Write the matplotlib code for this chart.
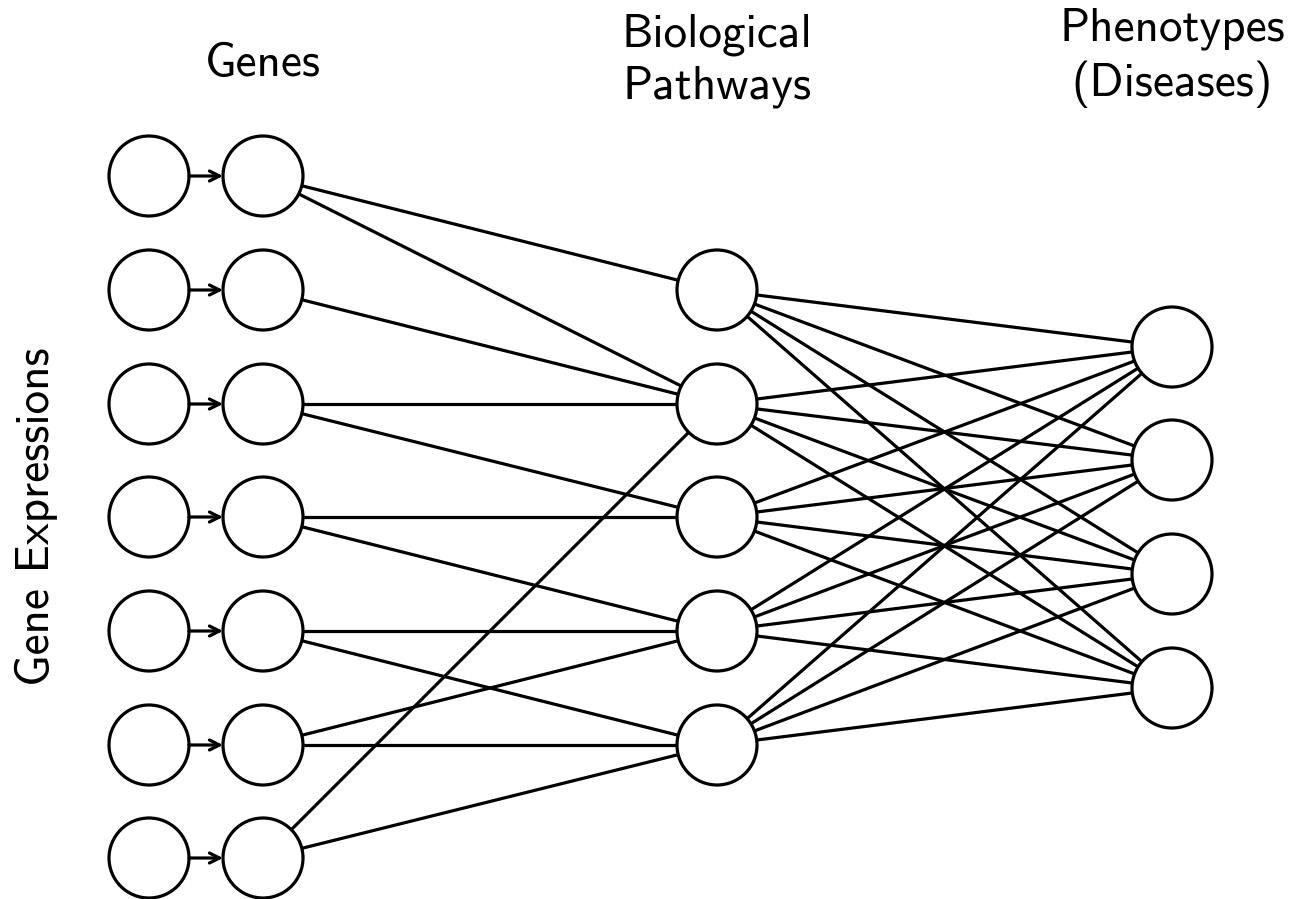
import numpy as np
import matplotlib.pyplot as plt
from matplotlib.patches import Circle

# node positions (pixel space of the picture)
expr_x = 149
gene_x = 263
path_x = 717
pheno_x = 1172
gene_y = [176, 290, 404, 517, 631, 745, 858]
path_y = [290, 404, 517, 631, 745]
pheno_y = [347, 460, 574, 688]
R = 40

# gene -> pathway links (gene index, pathway index)
gene_links = [(0, 0), (0, 1), (1, 1), (2, 1), (2, 2), (3, 2), (3, 3),
              (4, 3), (4, 4), (5, 3), (5, 4), (6, 1), (6, 4)]
# every pathway goes to every phenotype
path_links = [(i, j) for i in range(len(path_y)) for j in range(len(pheno_y))]

titles = ["Genes", "Biological\nPathways", "Phenotypes\n(Diseases)"]
side_label = "Gene Expressions"

W, H = 1303, 899
fig = plt.figure(figsize=(W/100, H/100), dpi=100)
ax = fig.add_axes([0, 0, 1, 1])
ax.set_xlim(0, W)
ax.set_ylim(H, 0)
ax.axis("off")

lw = 2.3

def node(x, y):
	ax.add_patch(Circle((x, y), R, facecolor="white", edgecolor="black", lw=lw, zorder=3))

def edge(x1, y1, x2, y2):
	d = np.hypot(x2-x1, y2-y1)
	ux, uy = (x2-x1)/d, (y2-y1)/d
	ax.plot([x1+ux*R, x2-ux*R], [y1+uy*R, y2-uy*R], color="black", lw=lw, zorder=2,
		solid_capstyle="butt")

for y in gene_y:
	node(expr_x, y)
	node(gene_x, y)
	ax.annotate("", xy=(gene_x-R, y), xytext=(expr_x+R, y),
		arrowprops=dict(arrowstyle="->", lw=lw, color="black", shrinkA=0, shrinkB=0,
			mutation_scale=18))
for y in path_y:
	node(path_x, y)
for y in pheno_y:
	node(pheno_x, y)

for g, p in gene_links:
	edge(gene_x, gene_y[g], path_x, path_y[p])
for p, q in path_links:
	edge(path_x, path_y[p], pheno_x, pheno_y[q])

fnt = "cmss10"
fs = 34
ax.text(gene_x, 64, titles[0], ha="center", va="center", fontsize=fs, family=fnt)
ax.text(path_x, 61, titles[1], ha="center", va="center", fontsize=fs, family=fnt, linespacing=1.3)
ax.text(pheno_x, 58, titles[2], ha="center", va="center", fontsize=fs, family=fnt, linespacing=1.3)
ax.text(36, 517, side_label, ha="center", va="center", fontsize=fs, family=fnt, rotation=90)

fig.savefig("out.png", dpi=100, facecolor="white")
